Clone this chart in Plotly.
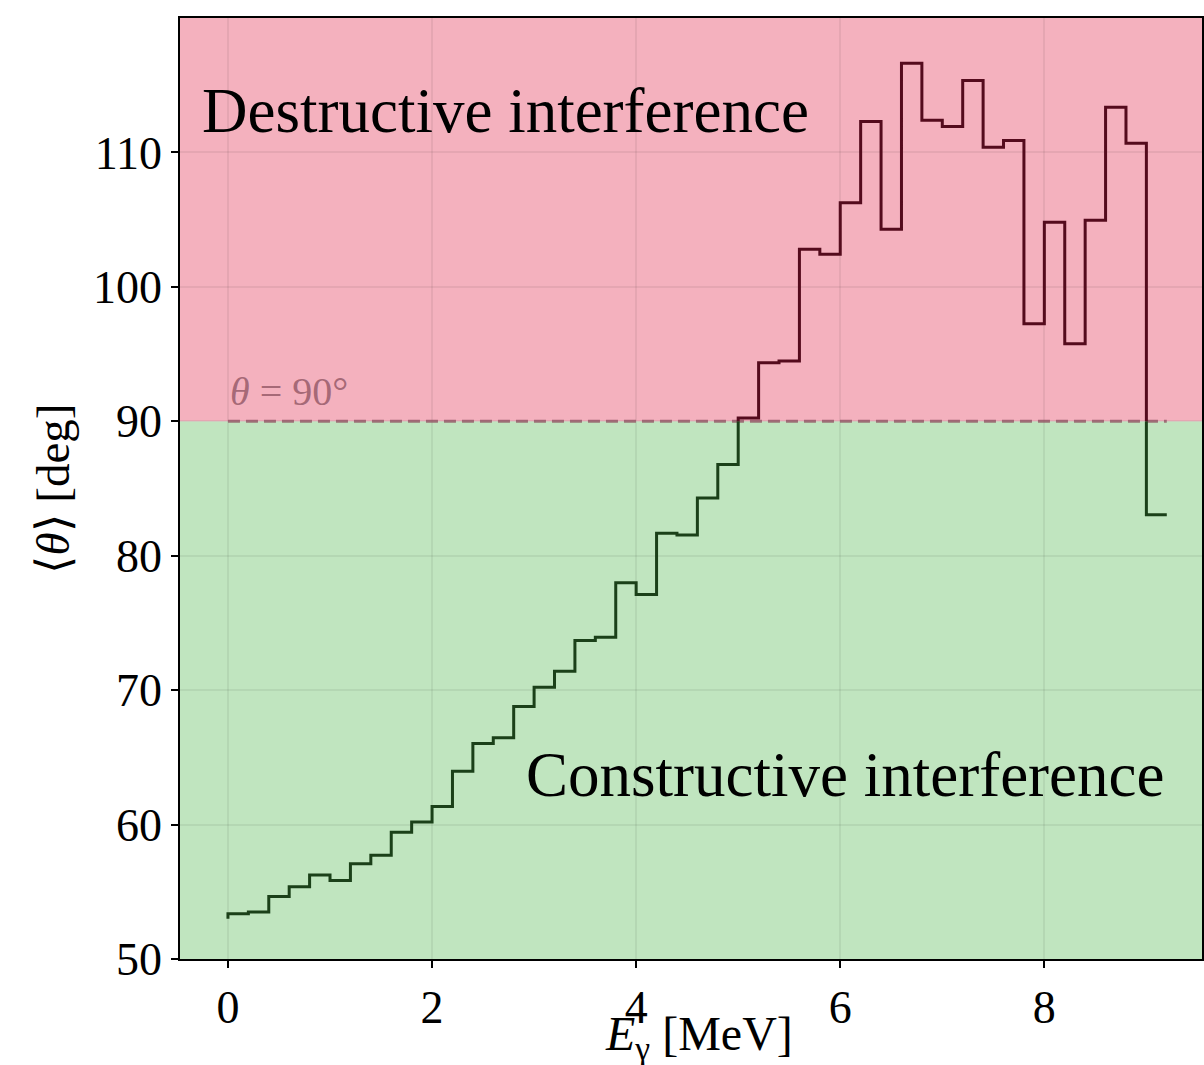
import plotly.graph_objects as go

# ---- data ----
E_edges = [0.0, 0.2, 0.4, 0.6, 0.8, 1.0, 1.2, 1.4, 1.6, 1.8,
           2.0, 2.2, 2.4, 2.6, 2.8, 3.0, 3.2, 3.4, 3.6, 3.8,
           4.0, 4.2, 4.4, 4.6, 4.8, 5.0, 5.2, 5.4, 5.6, 5.8,
           6.0, 6.2, 6.4, 6.6, 6.8, 7.0, 7.2, 7.4, 7.6, 7.8,
           8.0, 8.2, 8.4, 8.6, 8.8, 9.0, 9.2]
theta_mean = [53.0, 53.36, 53.5, 54.65, 55.37, 56.25, 55.84, 57.08, 57.71, 59.42,
              60.19, 61.35, 63.97, 66.03, 66.45, 68.79, 70.22, 71.40, 73.69, 73.94,
              77.99, 77.11, 81.68, 81.54, 84.30, 86.78, 90.25, 94.35, 94.48, 102.80,
              102.42, 106.26, 112.30, 104.29, 116.63, 112.40, 111.92, 115.35, 110.38, 110.89,
              97.25, 104.80, 95.76, 104.95, 113.37, 110.69, 83.04]
threshold = 90.0
x_ticks = [0, 2, 4, 6, 8]
y_ticks = [50, 60, 70, 80, 90, 100, 110]
y_range = [50, 120]
x_range = [-0.47, 9.545]

# ---- build the step path (steps-pre) ----
px, py = [E_edges[0]], [theta_mean[0]]
for i in range(1, len(E_edges)):
    px += [E_edges[i - 1], E_edges[i]]
    py += [theta_mean[i], theta_mean[i]]

# insert threshold crossings
rx, ry = [px[0]], [py[0]]
for i in range(1, len(px)):
    x0, y0, x1, y1 = px[i - 1], py[i - 1], px[i], py[i]
    if (y0 - threshold) * (y1 - threshold) < 0:
        f = (threshold - y0) / (y1 - y0)
        rx.append(x0 + f * (x1 - x0))
        ry.append(threshold)
    rx.append(x1)
    ry.append(y1)

runs = {"lo": ([], []), "hi": ([], [])}
prev = None
for i in range(1, len(rx)):
    cls = "hi" if (ry[i - 1] + ry[i]) / 2 > threshold else "lo"
    xs, ys = runs[cls]
    if prev == cls:
        xs.append(rx[i]); ys.append(ry[i])
    else:
        if xs:
            xs.append(None); ys.append(None)
        xs += [rx[i - 1], rx[i]]
        ys += [ry[i - 1], ry[i]]
    prev = cls

serif = "Liberation Serif"
dash_col = "rgba(145,85,100,0.8)"

fig = go.Figure()
# dashed 90 deg line
fig.add_trace(go.Scatter(x=[E_edges[0], E_edges[-1]], y=[threshold, threshold],
                         mode="lines", line=dict(color=dash_col, width=3, dash="12px,6px"),
                         hoverinfo="skip", showlegend=False))
fig.add_trace(go.Scatter(x=runs["lo"][0], y=runs["lo"][1], mode="lines",
                         line=dict(color="#1b4019", width=3), showlegend=False))
fig.add_trace(go.Scatter(x=runs["hi"][0], y=runs["hi"][1], mode="lines",
                         line=dict(color="#540b1d", width=3), showlegend=False))

fig.add_shape(type="rect", xref="paper", yref="y", x0=0, x1=1, y0=y_range[0], y1=threshold,
              fillcolor="#c0e5bf", line_width=0, layer="below")
fig.add_shape(type="rect", xref="paper", yref="y", x0=0, x1=1, y0=threshold, y1=y_range[1],
              fillcolor="#f4b1be", line_width=0, layer="below")

fig.add_annotation(x=-0.27, y=113.1, xref="x", yref="y", text="Destructive interference",
                   showarrow=False, xanchor="left", yanchor="middle",
                   font=dict(family=serif, size=63, color="black"))
fig.add_annotation(x=2.9, y=63.7, xref="x", yref="y", text="Constructive interference",
                   showarrow=False, xanchor="left", yanchor="middle",
                   font=dict(family=serif, size=63, color="black"))
fig.add_annotation(x=0.0, y=90.4, xref="x", yref="y", text="<i>θ</i> = 90°",
                   showarrow=False, xanchor="left", yanchor="bottom",
                   font=dict(family=serif, size=40, color=dash_col))

# axis titles
fig.add_annotation(x=0.508, y=0, xref="paper", yref="paper", yshift=-78,
                   text="<i>E</i><sub>γ</sub> [MeV]", showarrow=False,
                   xanchor="center", yanchor="middle",
                   font=dict(family=serif, size=48, color="black"))
fig.add_annotation(x=0, y=0.5, xref="paper", yref="paper", xshift=-128,
                   text="⟨<i>θ</i>⟩ [deg]", showarrow=False, textangle=-90,
                   xanchor="center", yanchor="middle",
                   font=dict(family=serif, size=47, color="black"))

axis_common = dict(showline=True, linecolor="black", linewidth=1.5, mirror=True,
                   ticks="outside", ticklen=7, tickwidth=1.5, tickcolor="black",
                   showgrid=True, gridcolor="rgba(0,0,0,0.06)", gridwidth=1.5,
                   zeroline=False, tickfont=dict(family=serif, size=46, color="black"))
fig.update_xaxes(range=x_range, tickvals=x_ticks, **axis_common)
fig.update_yaxes(range=y_range, tickvals=y_ticks, **axis_common)

fig.update_layout(width=1204, height=1065, margin=dict(l=180, r=0, t=18, b=106),
                  paper_bgcolor="white", plot_bgcolor="white", showlegend=False)

fig.write_html("out.html")
